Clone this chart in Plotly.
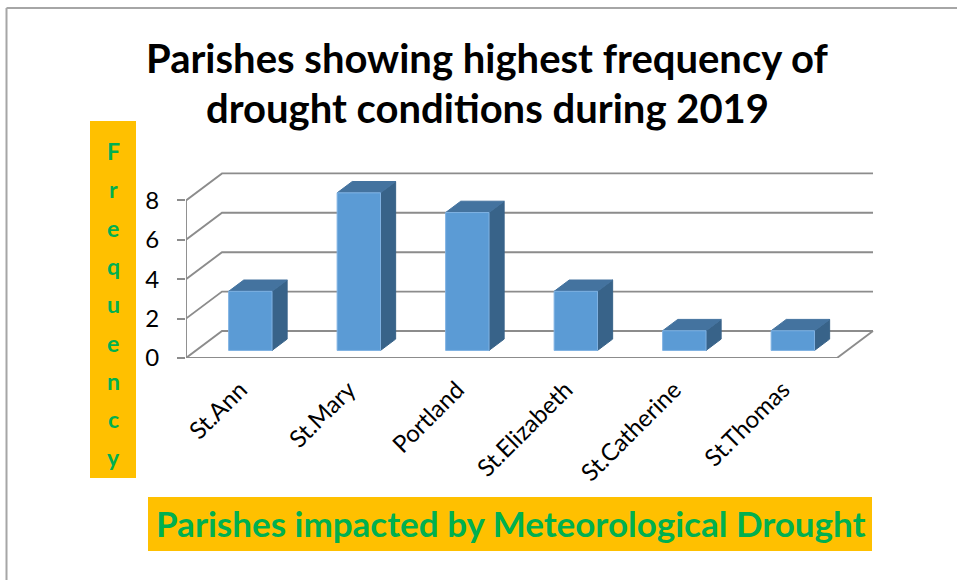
import plotly.graph_objects as go

# ---- data -------------------------------------------------------------
parishes = ["St.Ann", "St.Mary", "Portland", "St.Elizabeth", "St.Catherine", "St.Thomas"]
frequency = [3, 8, 7, 3, 1, 1]
y_ticks = [0, 2, 4, 6, 8]

title_lines = ["Parishes showing highest frequency of", "drought conditions during 2019"]
x_title_text = "Parishes impacted by Meteorological Drought"
y_title_text = "Frequency"

# ---- page / plot-area geometry -----------------------------------------
W, H = 957, 580
ML, MR, MT, MB = 186, 77, 160, 222
PW, PH = W - ML - MR, H - MT - MB
PX_PER_CAT = 108.5      # pixels per category on the front plane
PX_PER_UNIT = 19.7      # pixels per frequency unit on the front plane

# oblique depth of the 3-D box (in data units)
DEPTH_X = 36 / PX_PER_CAT
DEPTH_Y = 27 / PX_PER_UNIT
BAR_W = 0.4
BAR_D0, BAR_D1 = 0.28, 0.70

FRONT = "#5B9BD5"
SIDE = "#386389"
TOP = "#44739F"
GRID = "#8C8C8C"
ORANGE = "#FFC000"
GREEN = "#00B050"
FONT = "Lato"


def proj(x, y, d):
    return x + d * DEPTH_X, y + d * DEPTH_Y


def px_x(p):
    return (p - ML) / PW


def px_y(p):
    return (H - MB - p) / PH


fig = go.Figure()

n = len(parishes)
ymax = max(y_ticks)

# back wall gridlines + left wall lines
wx, wy = [], []
for v in y_ticks:
    a = proj(0, v, 0)
    b = proj(0, v, 1)
    c = proj(n, v, 1)
    wx += [a[0], b[0], c[0], None]
    wy += [a[1], b[1], c[1], None]
# front floor edge, right floor edge and front vertical axis
f0 = proj(0, 0, 0)
f1 = proj(n, 0, 0)
f2 = proj(n, 0, 1)
wx += [f0[0], f1[0], f2[0], None, 0, 0, None]
wy += [f0[1], f1[1], f2[1], None, 0, ymax, None]
# category boundary ticks
for i in range(n + 1):
    wx += [i, i, None]
    wy += [0, -0.36, None]
fig.add_trace(go.Scatter(x=wx, y=wy, mode="lines", line=dict(color=GRID, width=1.9),
                         hoverinfo="skip", cliponaxis=False, showlegend=False))

# 3-D columns
for i, v in enumerate(frequency):
    x0 = i + 0.5 - BAR_W / 2
    x1 = i + 0.5 + BAR_W / 2
    faces = [
        ([(x1, 0, BAR_D0), (x1, 0, BAR_D1), (x1, v, BAR_D1), (x1, v, BAR_D0)], SIDE),
        ([(x0, v, BAR_D0), (x1, v, BAR_D0), (x1, v, BAR_D1), (x0, v, BAR_D1)], TOP),
        ([(x0, 0, BAR_D0), (x1, 0, BAR_D0), (x1, v, BAR_D0), (x0, v, BAR_D0)], FRONT),
    ]
    for pts, col in faces:
        xs, ys = zip(*[proj(*p) for p in pts])
        fig.add_trace(go.Scatter(x=list(xs) + [xs[0]], y=list(ys) + [ys[0]], fill="toself",
                                 fillcolor=col, mode="lines",
                                 line=dict(color="#7FB2E3" if col == FRONT else col, width=1),
                                 hoverinfo="skip", cliponaxis=False, showlegend=False))

shapes = [
    # outer frame (top and left edges)
    dict(type="line", xref="paper", yref="paper", x0=px_x(6.5), x1=px_x(957), y0=px_y(8), y1=px_y(8),
         line=dict(color="#A6A6A6", width=2)),
    dict(type="line", xref="paper", yref="paper", x0=px_x(6.5), x1=px_x(6.5), y0=px_y(8), y1=px_y(580),
         line=dict(color="#A6A6A6", width=2)),
    # axis-title backgrounds
    dict(type="rect", xref="paper", yref="paper", x0=px_x(90), x1=px_x(136), y0=px_y(121), y1=px_y(478),
         fillcolor=ORANGE, line=dict(width=0), layer="below"),
    dict(type="rect", xref="paper", yref="paper", x0=px_x(148), x1=px_x(872), y0=px_y(497), y1=px_y(551),
         fillcolor=ORANGE, line=dict(width=0), layer="below"),
]

annotations = [
    dict(text="<b>" + x_title_text + "</b>", xref="paper", yref="paper", x=px_x(511), y=px_y(523),
         xanchor="center", yanchor="middle", showarrow=False,
         font=dict(family=FONT, size=35, color=GREEN)),
]
for k, line in enumerate(title_lines):
    annotations.append(dict(text="<b>" + line + "</b>", xref="paper", yref="paper",
                            x=px_x(487), y=px_y(58 + 50 * k), xanchor="center", yanchor="middle",
                            showarrow=False, font=dict(family=FONT, size=40, color="black")))
for k, ch in enumerate(y_title_text):
    annotations.append(dict(text="<b>" + ch + "</b>", xref="paper", yref="paper",
                            x=px_x(113), y=px_y(151 + 38.3 * k), xanchor="center", yanchor="middle",
                            showarrow=False, font=dict(family=FONT, size=23, color=GREEN)))

fig.update_layout(
    width=W, height=H, autosize=False,
    margin=dict(l=ML, r=MR, t=MT, b=MB),
    paper_bgcolor="white", plot_bgcolor="white",
    shapes=shapes, annotations=annotations,
    xaxis=dict(range=[0, PW / PX_PER_CAT], tickvals=[i + 0.5 for i in range(n)], ticktext=parishes,
               tickangle=-45, ticks="", showgrid=False, zeroline=False, showline=False,
               tickfont=dict(family=FONT, size=24, color="black"), automargin=False,
               ticklabelstandoff=12, fixedrange=True),
    yaxis=dict(range=[0, PH / PX_PER_UNIT], tickvals=y_ticks, ticks="outside", ticklen=8,
               tickcolor=GRID, tickwidth=1.9, showgrid=False, zeroline=False, showline=False,
               tickfont=dict(family=FONT, size=24, color="black"), automargin=False,
               ticklabelstandoff=13, fixedrange=True),
)

fig.write_html("out.html")
